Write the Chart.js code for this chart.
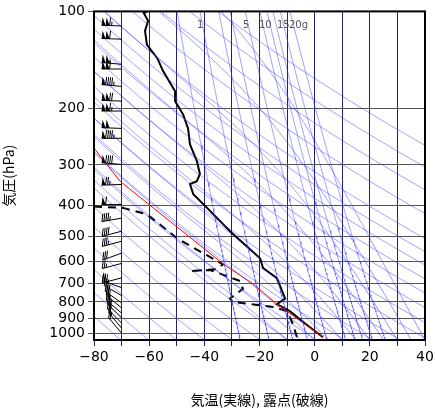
<!DOCTYPE html>
<html>
<head>
<meta charset="utf-8">
<script src="https://cdn.jsdelivr.net/npm/chart.js@4"></script>
<style>
  body { margin: 0; background: #fff; }
  #wrap { width: 435px; height: 412px; }
</style>
</head>
<body>
<div id="wrap"><canvas id="graph"></canvas></div>
<script>
// 観測値 (気圧 hPa, 気温 ℃)
const tempP = [100, 101, 107, 115, 127, 140, 153, 177, 190, 209, 231, 259, 292, 320, 337, 344, 370, 408, 482, 585, 627, 675, 781, 812, 854, 940, 1030];
const tempT = [-60.5, -62, -60.4, -61.5, -60.8, -57, -55, -50.6, -50.6, -47.7, -45.9, -45.2, -42.7, -41.6, -42.7, -45.2, -44, -39, -30.7, -19.8, -18.7, -13.7, -10.7, -13.7, -9, -3, 3];
const dewP = [404, 408, 427, 506, 557, 611, 632, 641, 636, 689, 728, 781, 800, 829, 854, 936, 1030];
const dewT = [-80, -69.5, -60.8, -50, -41.6, -33.2, -35.4, -45.2, -38, -27, -26, -30.7, -29.6, -15, -10, -7.9, -6.4];
const parcelP = [266, 337, 611, 702, 812, 1030];
const parcelT = [-80, -70.6, -33, -22.4, -13.7, 3];
// 風 (気圧, 風速 kt, 風向)
const windP = [111, 122, 146, 151, 171, 190, 204, 231, 248, 299, 345, 398, 439, 482, 518, 564, 607, 673, 722, 764, 805, 835, 866, 897, 930, 964, 1000];
const windS = [115, 110, 105, 110, 95, 120, 115, 100, 95, 90, 75, 60, 45, 40, 35, 30, 25, 20, 30, 35, 30, 30, 35, 30, 30, 25, 20];
const windD = [272, 272, 275, 270, 275, 272, 270, 272, 270, 275, 268, 270, 260, 255, 255, 250, 255, 255, 290, 300, 305, 310, 310, 315, 315, 320, 320];
// 補助線
const thetaK = [200, 210, 220, 230, 240, 250, 260, 270, 280, 290, 300, 310, 320, 330, 340, 350, 360, 370, 380, 400, 420, 440, 460];
const mixG = [0.4, 1, 2, 3, 5, 8, 10, 12, 15, 20];
const moistT0 = [-10, -5, 0, 5, 10, 15, 20, 25, 30, 35, 40];
const pTicks = [100, 200, 300, 400, 500, 600, 700, 800, 900, 1000];
const mixLabels = [['1', 197], ['5', 243], ['10', 259], ['15', 277], ['20g', 289]];

const pSteps = [];
for (let p = 100; p <= 1050; p += 10) pSteps.push(p);

const thin = { borderColor: 'rgba(60,60,255,0.6)', borderWidth: 0.8, pointRadius: 0, fill: false };
const sets = [];

thetaK.forEach(th => sets.push({ ...thin, data: pSteps.map(p => ({ x: th * Math.pow(p / 1000, 0.286) - 273.15, y: p })) }));

const tdOf = (w, p) => { const e = w * p / (622 + w); const l = Math.log(e / 6.112); return 243.5 * l / (17.67 - l); };
mixG.forEach(w => sets.push({ ...thin, data: pSteps.map(p => ({ x: tdOf(w, p), y: p })) }));

const es = t => 6.112 * Math.exp(17.67 * t / (t + 243.5));
moistT0.forEach(t0 => {
  let T = t0 + 273.15, pts = [];
  for (let p = 1050; p >= 100; p -= 5) {
    pts.push({ x: T - 273.15, y: p });
    const rs = 0.622 * es(T - 273.15) / (p - es(T - 273.15));
    const L = 2.5e6, Rd = 287, cp = 1004, eps = 0.622;
    const g = (Rd * T + L * rs) / (cp + L * L * rs * eps / (Rd * T * T)) / p;
    T -= g * 5;
  }
  sets.push({ ...thin, data: pts });
});

sets.push({ borderColor: '#ff0000', borderWidth: 1, pointRadius: 0, data: parcelP.map((p, i) => ({ x: parcelT[i], y: p })) });
sets.push({ borderColor: '#000', borderWidth: 2, pointRadius: 0, borderDash: [8, 6], data: dewP.map((p, i) => ({ x: dewT[i], y: p })) });
sets.push({ borderColor: '#000', borderWidth: 2, pointRadius: 0, data: tempP.map((p, i) => ({ x: tempT[i], y: p })) });

const extras = {
  id: 'extras',
  afterDatasetsDraw(chart) {
    const { ctx, chartArea: a, scales: { x, y } } = chart;
    ctx.save();
    // 混合比ラベル
    ctx.fillStyle = '#555';
    ctx.font = '10px "DejaVu Sans"';
    ctx.textAlign = 'left';
    mixLabels.forEach(([s, px]) => ctx.fillText(s, px, 28));
    // 風
    ctx.strokeStyle = '#000'; ctx.fillStyle = '#000'; ctx.lineWidth = 1;
    const ax = x.getPixelForValue(-70);
    windP.forEach((p, i) => {
      const ay = y.getPixelForValue(p);
      const r = windD[i] * Math.PI / 180;
      const dx = Math.sin(r), dy = -Math.cos(r);
      const L = 20;
      ctx.beginPath(); ctx.moveTo(ax, ay); ctx.lineTo(ax + dx * L, ay + dy * L); ctx.stroke();
      let s = Math.round(windS[i] / 5) * 5, pos = L;
      const bx = d => ax + dx * d, by = d => ay + dy * d;
      while (s >= 50) {
        ctx.beginPath(); ctx.moveTo(bx(pos), by(pos));
        ctx.lineTo(bx(pos) + 1, by(pos) - 8);
        ctx.lineTo(bx(pos - 4), by(pos - 4)); ctx.closePath(); ctx.fill();
        pos -= 4; s -= 50;
      }
      while (s >= 10) {
        ctx.beginPath(); ctx.moveTo(bx(pos), by(pos)); ctx.lineTo(bx(pos) + 1, by(pos) - 8); ctx.stroke();
        pos -= 2; s -= 10;
      }
      if (s >= 5) { ctx.beginPath(); ctx.moveTo(bx(pos), by(pos)); ctx.lineTo(bx(pos) + 0.5, by(pos) - 4); ctx.stroke(); }
    });
    // 枠
    ctx.strokeStyle = '#000'; ctx.lineWidth = 2;
    ctx.strokeRect(a.left, a.top, a.right - a.left, a.bottom - a.top);
    ctx.restore();
  }
};

new Chart(document.getElementById('graph').getContext('2d'), {
  type: 'line',
  data: { datasets: sets },
  options: {
    responsive: true,
    maintainAspectRatio: false,
    animation: false,
    devicePixelRatio: 1,
    layout: { padding: { top: 10, right: 0 } },
    plugins: { legend: { display: false }, tooltip: { enabled: false } },
    scales: {
      x: {
        type: 'linear', min: -80, max: 40,
        afterFit: s => { s.height = 72; s.paddingRight = 10; },
        grid: { color: '#22227a', lineWidth: 1, tickLength: 6 },
        border: { display: false },
        ticks: { stepSize: 10, autoSkip: false, color: '#000', font: { size: 14, family: 'DejaVu Sans' }, callback: v => v % 20 === 0 ? String(v).replace('-', '−') : '', maxRotation: 0 },
        title: { display: true, text: '気温(実線), 露点(破線)', color: '#000', font: { size: 14, family: 'Noto Sans CJK JP' }, padding: { top: 14 } }
      },
      y: {
        type: 'logarithmic', min: 100, max: 1050, reverse: true,
        afterFit: s => { s.width = 94; },
        afterBuildTicks: s => { s.ticks = pTicks.map(v => ({ value: v })); },
        grid: { color: '#555', lineWidth: 1, tickLength: 6 },
        border: { display: false },
        ticks: { color: '#000', font: { size: 14, family: 'DejaVu Sans' }, callback: v => String(v) },
        title: { display: true, text: '気圧(hPa)', color: '#000', font: { size: 14, family: 'Noto Sans CJK JP' }, padding: 0 }
      }
    }
  },
  plugins: [extras]
});
</script>
</body>
</html>
